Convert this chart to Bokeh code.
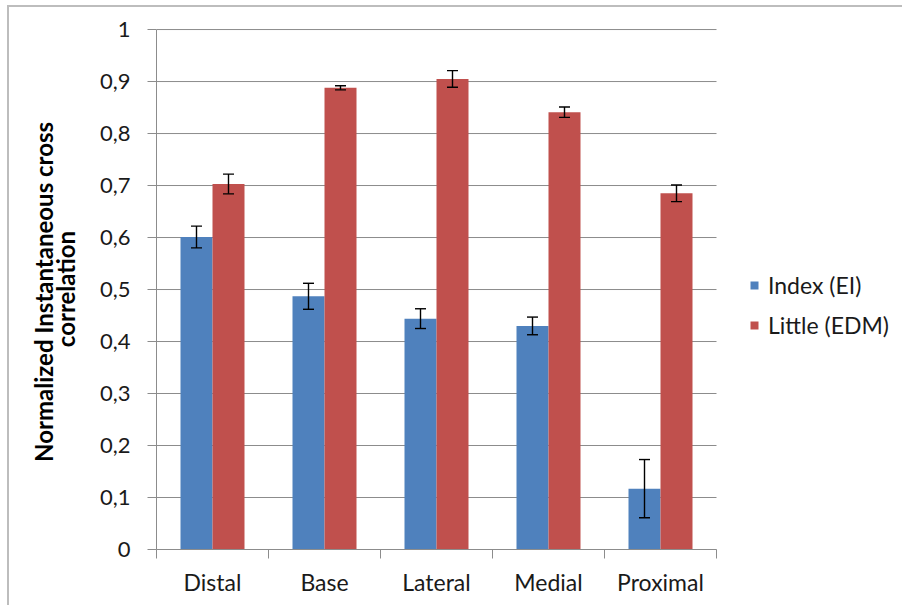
import numpy as np
from bokeh.plotting import figure
from bokeh.models import (ColumnDataSource, Range1d, FixedTicker, Whisker, TeeHead,
                          Legend, LegendItem, CustomJSTickFormatter, LinearAxis)
from bokeh.embed import file_html
from bokeh.resources import INLINE

categories = ["Distal", "Base", "Lateral", "Medial", "Proximal"]
series_names = ["Index (EI)", "Little (EDM)"]
index_values = [0.601, 0.487, 0.444, 0.430, 0.117]
index_errors = [0.021, 0.025, 0.019, 0.017, 0.056]
little_values = [0.703, 0.888, 0.905, 0.841, 0.685]
little_errors = [0.019, 0.004, 0.016, 0.010, 0.016]
y_ticks = [0.0, 0.1, 0.2, 0.3, 0.4, 0.5, 0.6, 0.7, 0.8, 0.9, 1.0]
y_title_lines = ["Normalized Instantaneous  cross", "correlation"]

colors = ["#4F81BD", "#C0504D"]
FONT = "Lato"
TEXT = "#1a1a1a"
GRID = "#8c8c8c"

n = len(categories)
centers = np.arange(n) + 0.5
bar_w = 1 / 3.5

W, H = 895, 600
LEFT = 147
PLOT_PX = 560                      # pixel width of the category area
frame_px = W - LEFT
x_end = n * frame_px / PLOT_PX     # frame extends to the right edge (room for legend)

p = figure(width=W, height=H, output_backend="svg", toolbar_location=None,
           x_range=Range1d(0, x_end), y_range=Range1d(0, 1.002),
           min_border_left=LEFT, min_border_right=0, min_border_top=21,
           min_border_bottom=58,
           styles={"margin-left": "7px", "margin-top": "5px",
                   "border-top": "2px solid #bdbdbd", "border-left": "2px solid #bdbdbd"})
p.outline_line_color = None
p.background_fill_color = "white"
p.xgrid.grid_line_color = None
p.ygrid.grid_line_color = None

# horizontal gridlines limited to the category area
p.segment(x0=0, x1=n, y0=y_ticks, y1=y_ticks, line_color=GRID, line_width=1)

renderers = []
for k, (vals, errs) in enumerate([(index_values, index_errors), (little_values, little_errors)]):
    xs = centers + (k - 0.5) * bar_w
    src = ColumnDataSource(dict(x=xs, top=vals, lower=np.array(vals) - np.array(errs),
                                upper=np.array(vals) + np.array(errs)))
    r = p.vbar(x="x", top="top", bottom=0, width=bar_w, source=src,
               fill_color=colors[k], line_color=None)
    renderers.append(r)
    w = Whisker(base="x", lower="lower", upper="upper", source=src, level="overlay",
                line_color="black", line_width=1.4,
                upper_head=TeeHead(size=11, line_color="black", line_width=1.4),
                lower_head=TeeHead(size=11, line_color="black", line_width=1.4))
    p.add_layout(w)

# y axis
p.yaxis.ticker = FixedTicker(ticks=y_ticks)
p.yaxis.formatter = CustomJSTickFormatter(code="""
    if (Math.abs(tick) < 1e-9) return '0';
    if (Math.abs(tick - 1) < 1e-9) return '1';
    return tick.toFixed(1).replace('.', ',');
""")
p.yaxis.bounds = (0, 1)
p.yaxis.axis_line_color = GRID
p.yaxis.major_tick_line_color = GRID
p.yaxis.major_tick_out = 9
p.yaxis.major_tick_in = 0
p.yaxis.minor_tick_line_color = None
p.yaxis.major_label_text_font = FONT
p.yaxis.major_label_text_font_size = "22px"
p.yaxis.major_label_text_color = TEXT
p.yaxis.major_label_standoff = 17
p.yaxis.axis_label = y_title_lines[1]
p.yaxis.axis_label_text_font = FONT
p.yaxis.axis_label_text_font_style = "bold"
p.yaxis.axis_label_text_font_size = "24px"
p.yaxis.axis_label_text_color = "black"
p.yaxis.axis_label_standoff = 17

outer = LinearAxis(axis_label=y_title_lines[0], ticker=FixedTicker(ticks=[]),
                   major_label_text_font_size="0px", major_label_standoff=0,
                   axis_line_color=None, major_tick_line_color=None,
                   minor_tick_line_color=None, major_tick_out=0, major_tick_in=0,
                   axis_label_standoff=-10, axis_label_text_font=FONT,
                   axis_label_text_font_style="bold", axis_label_text_font_size="24px",
                   axis_label_text_color="black")
p.add_layout(outer, "left")

# x axis: labels at centers, tick marks at category boundaries
p.xaxis.ticker = FixedTicker(ticks=list(centers), minor_ticks=list(range(n + 1)))
p.xaxis.major_label_overrides = {float(c): lab for c, lab in zip(centers, categories)}
p.xaxis.bounds = (0, n)
p.xaxis.axis_line_color = GRID
p.xaxis.major_tick_line_color = None
p.xaxis.minor_tick_line_color = GRID
p.xaxis.minor_tick_out = 9
p.xaxis.minor_tick_in = 0
p.xaxis.major_label_text_font = FONT
p.xaxis.major_label_text_font_size = "23px"
p.xaxis.major_label_text_color = TEXT
p.xaxis.major_label_standoff = 9

legend = Legend(items=[LegendItem(label=series_names[i], renderers=[renderers[i]]) for i in range(2)],
                location=(593, 210), orientation="vertical",
                label_text_font=FONT, label_text_font_size="23px", label_text_color=TEXT,
                glyph_width=10, glyph_height=10, label_height=20, spacing=12,
                padding=0, margin=0, border_line_color=None, background_fill_alpha=0,
                label_standoff=9)
p.add_layout(legend, "center")

open("out.html", "w").write(file_html(p, INLINE))
